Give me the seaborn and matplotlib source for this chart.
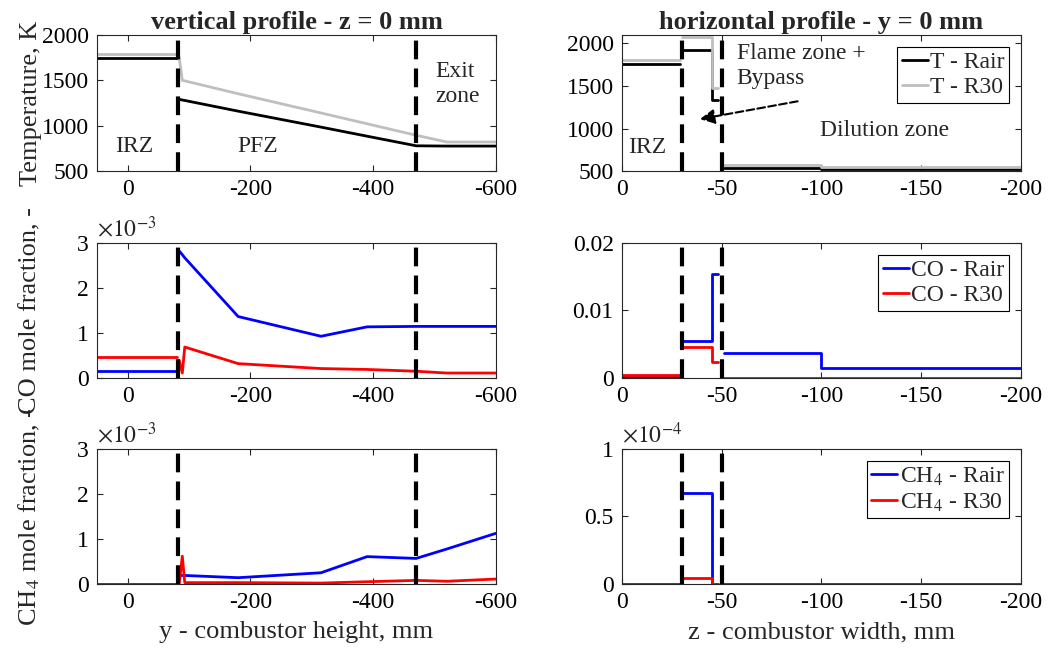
import numpy as np
import pandas as pd
import matplotlib.pyplot as plt
import matplotlib.ticker as mticker
import seaborn as sns

nan = np.nan

# vertical profile, z = 0 mm (position along y, mm); NaN separates zones
v_pos = [50, -80, nan, -84, -89, -93, -180, -315, -390, -470, -520, -600]
v_T_rair = [1750, 1750, nan, 1290, 1283, 1278, 1160, 984, 884, 778, 775, 775]
v_T_r30 = [1790, 1790, nan, 1750, 1500, 1494, 1352, 1140, 1021, 894, 820, 820]
v_CO_rair = [0.15e-3, 0.15e-3, nan, 2.82e-3, 2.74e-3, 2.67e-3, 1.36e-3, 0.92e-3, 1.13e-3, 1.14e-3, 1.14e-3, 1.14e-3]
v_CO_r30 = [0.45e-3, 0.45e-3, nan, 0.38e-3, 0.10e-3, 0.68e-3, 0.31e-3, 0.20e-3, 0.18e-3, 0.14e-3, 0.10e-3, 0.10e-3]
v_CH4_rair = [0, 0, nan, 0.18e-3, 0.18e-3, 0.18e-3, 0.13e-3, 0.24e-3, 0.60e-3, 0.56e-3, 0.77e-3, 1.12e-3]
v_CH4_r30 = [0, 0, nan, 0.0, 0.61e-3, 0.02e-3, 0.02e-3, 0.01e-3, 0.04e-3, 0.07e-3, 0.05e-3, 0.10e-3]

# horizontal profile, y = 0 mm (position along z, mm)
h_pos = [0, -29, nan, -30, -45, -45, -48, nan, -51, -100, -100, -200]
h_T_rair = [1760, 1760, nan, 1920, 1920, 1340, 1340, nan, 540, 540, 528, 528]
h_T_r30 = [1800, 1800, nan, 2080, 2080, 1480, 1480, nan, 568, 568, 550, 550]
h_CO_rair = [0.0001, 0.0001, nan, 0.0055, 0.0055, 0.01536, 0.01536, nan, 0.0037, 0.0037, 0.00135, 0.00135]
h_CO_r30 = [0.0004, 0.0004, nan, 0.0046, 0.0046, 0.00225, 0.00225, nan, 0.0, 0.0, 0.0, 0.0]
h_CH4_rair = [0, 0, nan, 0.67e-4, 0.67e-4, 0, 0, nan, 0, 0, 0, 0]
h_CH4_r30 = [0, 0, nan, 0.04e-4, 0.04e-4, 0, 0, nan, 0, 0, 0, 0]

v_zones = [-82, -470]
h_zones = [-30, -50]

sns.set_theme(style="ticks")
plt.rcParams['font.family'] = ['Liberation Serif', 'DejaVu Serif']
plt.rcParams['mathtext.fontset'] = 'stix'
plt.rcParams['axes.unicode_minus'] = False

FS = 17


def draw(ax, pos, series, colors, labels):
    for vals, c, lab in zip(series, colors, labels):
        df = pd.DataFrame({'pos': pos, 'val': vals})
        df['seg'] = df['val'].isna().cumsum()
        df = df.dropna()
        sns.lineplot(data=df, x='pos', y='val', units='seg', estimator=None,
                     sort=False, color=c, lw=2, ax=ax, label=lab, legend=False)


def style(ax, xlim, ylim, xticks, yticks):
    ax.set_xlim(*xlim)
    ax.set_ylim(*ylim)
    ax.set_xticks(xticks)
    ax.set_yticks(yticks)
    ax.tick_params(direction='in', top=True, right=True, length=4, width=0.8,
                   labelsize=FS, colors='#262626', labelcolor='black', pad=6)
    for s in ax.spines.values():
        s.set_color('#262626')
        s.set_linewidth(0.8)
    ax.set_xlabel('')
    ax.set_ylabel('')


def zones(ax, xs):
    for x in xs:
        ax.axvline(x, color='black', lw=3, ls=(0, (4.5, 2.2)), zorder=5)


def legend(ax):
    h, l = ax.get_legend_handles_labels()
    uniq = dict(zip(l, h))
    leg = ax.legend(uniq.values(), uniq.keys(), loc='upper right', fontsize=FS,
                    frameon=True, fancybox=False, framealpha=1, edgecolor='black',
                    handlelength=1.1, handletextpad=0.1, borderpad=0.2,
                    labelspacing=0.15, borderaxespad=0.5)
    leg.get_frame().set_linewidth(0.8)


def sci(ax, power):
    ax.yaxis.set_major_formatter(
        mticker.FuncFormatter(lambda v, p: '%g' % round(v / 10 ** power, 6)))
    ax.text(0, 1.01, r'$\times10^{%d}$' % power, transform=ax.transAxes,
            ha='left', va='bottom', fontsize=FS)


fig = plt.figure(figsize=(10.53, 6.48), dpi=100)
lx, rx, w = 0.0921, 0.5907, 0.3789
rows = [(0.7361, 0.2099), (0.4174, 0.2076), (0.0995, 0.2076)]
axL = [fig.add_axes([lx, b, w, h]) for b, h in rows]
axR = [fig.add_axes([rx, b, w, h]) for b, h in rows]

# temperature
draw(axL[0], v_pos, [v_T_rair, v_T_r30], ['black', '#bfbfbf'], ['T - Rair', 'T - R30'])
draw(axR[0], h_pos, [h_T_rair, h_T_r30], ['black', '#bfbfbf'], ['T - Rair', 'T - R30'])
# CO
draw(axL[1], v_pos, [v_CO_rair, v_CO_r30], ['blue', 'red'], ['CO - Rair', 'CO - R30'])
draw(axR[1], h_pos, [h_CO_rair, h_CO_r30], ['blue', 'red'], ['CO - Rair', 'CO - R30'])
# CH4
draw(axL[2], v_pos, [v_CH4_rair, v_CH4_r30], ['blue', 'red'], ['CH$_4$ - Rair', 'CH$_4$ - R30'])
draw(axR[2], h_pos, [h_CH4_rair, h_CH4_r30], ['blue', 'red'], ['CH$_4$ - Rair', 'CH$_4$ - R30'])

style(axL[0], (50, -600), (500, 2000), [0, -200, -400, -600], [500, 1000, 1500, 2000])
style(axR[0], (0, -200), (500, 2100), [0, -50, -100, -150, -200], [500, 1000, 1500, 2000])
style(axL[1], (50, -600), (0, 3e-3), [0, -200, -400, -600], [0, 1e-3, 2e-3, 3e-3])
style(axR[1], (0, -200), (0, 0.02), [0, -50, -100, -150, -200], [0, 0.01, 0.02])
style(axL[2], (50, -600), (0, 3e-3), [0, -200, -400, -600], [0, 1e-3, 2e-3, 3e-3])
style(axR[2], (0, -200), (0, 1e-4), [0, -50, -100, -150, -200], [0, 0.5e-4, 1e-4])

axR[1].yaxis.set_major_formatter(mticker.FuncFormatter(lambda v, p: '%g' % round(v, 6)))
sci(axL[1], -3)
sci(axL[2], -3)
sci(axR[2], -4)

for ax in axL:
    zones(ax, v_zones)
for ax in axR:
    zones(ax, h_zones)
    legend(ax)

axL[0].set_title('vertical profile - z = 0 mm', fontsize=19, fontweight='bold', pad=4)
axR[0].set_title('horizontal profile - y = 0 mm', fontsize=19, fontweight='bold', pad=4)

axL[0].set_ylabel('Temperature, K', fontsize=19)
axL[1].set_ylabel('CO mole fraction, -', fontsize=19)
axL[2].set_ylabel('CH$_4$ mole fraction, -', fontsize=19)
for ax in axL:
    ax.yaxis.set_label_coords(-0.138, 0.5)
axL[2].set_xlabel('y - combustor height, mm', fontsize=19, labelpad=6)
axR[2].set_xlabel('z - combustor width, mm', fontsize=19, labelpad=6)

# zone annotations
axL[0].text(-10, 770, 'IRZ', fontsize=FS, ha='center', va='center')
axL[0].text(-212, 770, 'PFZ', fontsize=FS, ha='center', va='center')
axL[0].text(-501, 1460, 'Exit\nzone', fontsize=FS, ha='left', va='center', linespacing=1.3)
axR[0].text(-12.5, 776, 'IRZ', fontsize=FS, ha='center', va='center')
axR[0].text(-57.5, 1736, 'Flame zone +\nBypass', fontsize=FS, ha='left', va='center', linespacing=1.3)
axR[0].text(-131.5, 980, 'Dilution zone', fontsize=FS, ha='center', va='center')
axR[0].annotate('', xy=(-39, 1110), xytext=(-88, 1320),
                arrowprops=dict(arrowstyle='-|>', ls='--', color='black', lw=1.5,
                                mutation_scale=22, shrinkA=0, shrinkB=0))

fig.savefig('out.png', dpi=100)
